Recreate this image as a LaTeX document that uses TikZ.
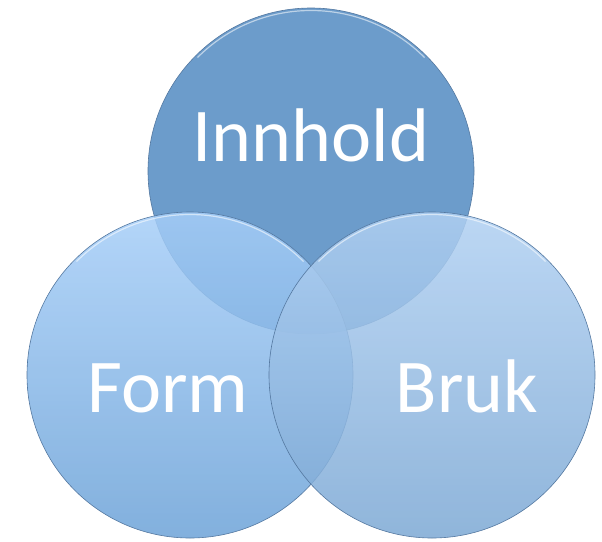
\documentclass[tikz,border=0pt]{standalone}
\usepackage{fontspec}
\setmainfont{Carlito}
\begin{document}
\begin{tikzpicture}[x=1pt,y=-1pt]
\definecolor{topc}{RGB}{108,156,203}
\definecolor{lefttop}{RGB}{166,206,248}
\definecolor{leftbot}{RGB}{108,162,215}
\definecolor{righttop}{RGB}{176,208,242}
\definecolor{rightbot}{RGB}{124,168,212}
\definecolor{edgec}{RGB}{84,120,160}
\tikzset{
  venn/.style={circle, minimum size=326pt, inner sep=0pt, outer sep=0pt, draw=edgec, line width=0.6pt},
  lbl/.style={text=white, font=\fontsize{76}{76}\selectfont, anchor=base, inner sep=0pt},
  gloss/.style={white, opacity=0.55, line width=1.2pt}
}
\useasboundingbox (0,0) rectangle (602,541);
\node[venn, fill=topc] (top) at (311,171) {};
\draw[gloss] (311,171) ++(225:160.5) arc[start angle=225, end angle=315, radius=160.5];
\node[venn, top color=lefttop, bottom color=leftbot, fill opacity=0.85] (left) at (190,375) {};
\draw[gloss] (190,375) ++(225:160.5) arc[start angle=225, end angle=315, radius=160.5];
\node[venn, top color=righttop, bottom color=rightbot, fill opacity=0.85] (right) at (432,375) {};
\draw[gloss] (432,375) ++(225:160.5) arc[start angle=225, end angle=315, radius=160.5];
\node[lbl] (inn) at (311,161) {Innhold};
\node[lbl] (form) at (168,412) {Form};
\node[lbl] (bruk) at (467,412) {Bruk};
\end{tikzpicture}
\end{document}
